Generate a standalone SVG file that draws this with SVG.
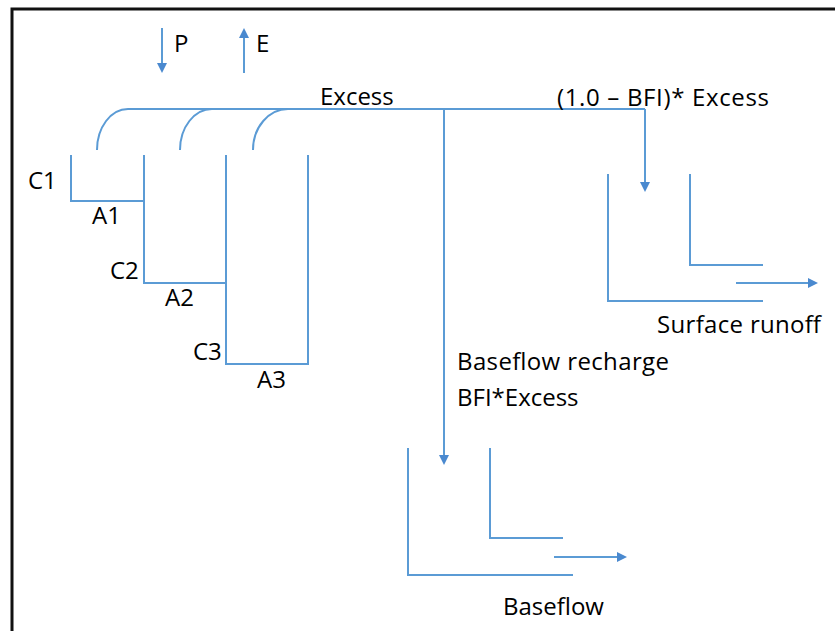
<svg xmlns="http://www.w3.org/2000/svg" width="835" height="631" viewBox="0 0 835 631">
  <style>
    .ln { stroke: #5B9BD5; stroke-width: 2; fill: none; }
    .ar { stroke: #5B9BD5; stroke-width: 2; fill: none; marker-end: url(#head); }
    .tx { font-family: "Open Sans", "Liberation Sans", sans-serif; font-size: 24px; fill: #000; }
    .frame { stroke: #111; stroke-width: 3; fill: none; }
  </style>
  <defs>
    <marker id="head" markerUnits="userSpaceOnUse" markerWidth="10" markerHeight="10" refX="2" refY="5" orient="auto">
      <path d="M0,0 L10,5 L0,10 Z" fill="#4A89CF"/>
    </marker>
  </defs>
  <rect x="0" y="0" width="835" height="631" fill="#fff"/>
  <path class="frame" d="M12,631 L12,9 L835,9"/>

  <g id="inputs">
    <line class="ar" x1="162" y1="28" x2="162" y2="65"/>
    <text class="tx" x="174" y="52">P</text>
    <line class="ar" x1="244" y1="73" x2="244" y2="36"/>
    <text class="tx" x="256" y="52">E</text>
  </g>

  <g id="tank-C1">
    <path class="ln" d="M71,155 L71,201 L144,201"/>
    <text class="tx" x="28" y="189">C1</text>
    <text class="tx" x="92" y="224">A1</text>
  </g>
  <g id="tank-C2">
    <path class="ln" d="M144,155 L144,283 L226,283"/>
    <text class="tx" x="110" y="279">C2</text>
    <text class="tx" x="165" y="306">A2</text>
  </g>
  <g id="tank-C3">
    <path class="ln" d="M226,155 L226,364 L308,364 L308,155"/>
    <text class="tx" x="193" y="360">C3</text>
    <text class="tx" x="257" y="388">A3</text>
  </g>

  <g id="surface-tank">
    <path class="ln" d="M608,174 L608,301 L763,301"/>
    <path class="ln" d="M690,174 L690,265 L763,265"/>
    <text class="tx" x="657" y="333" textLength="164" lengthAdjust="spacing">Surface runoff</text>
  </g>

  <g id="baseflow-tank">
    <path class="ln" d="M408,448 L408,575 L573,575"/>
    <path class="ln" d="M490,448 L490,538 L563,538"/>
    <text class="tx" x="503" y="615">Baseflow</text>
  </g>

  <g id="connectors">
    <path class="ln" d="M97,150 A31,41 0 0 1 128,109 L645,109"/>
    <path class="ln" d="M180,150 A32,41 0 0 1 212,109"/>
    <path class="ln" d="M253,150 A35,41 0 0 1 288,109"/>
    <line class="ar" x1="645" y1="109" x2="645" y2="184"/>
    <line class="ar" x1="444" y1="109" x2="444" y2="457"/>
    <line class="ar" x1="736" y1="283" x2="810" y2="283"/>
    <line class="ar" x1="554" y1="557" x2="619" y2="557"/>
  </g>

  <g id="labels">
    <text class="tx" x="320" y="105">Excess</text>
    <text class="tx" x="557" y="106" textLength="212" lengthAdjust="spacing">(1.0 – BFI)* Excess</text>
    <text class="tx" x="457" y="370" textLength="212" lengthAdjust="spacing">Baseflow recharge</text>
    <text class="tx" x="457" y="406">BFI*Excess</text>
  </g>
</svg>
